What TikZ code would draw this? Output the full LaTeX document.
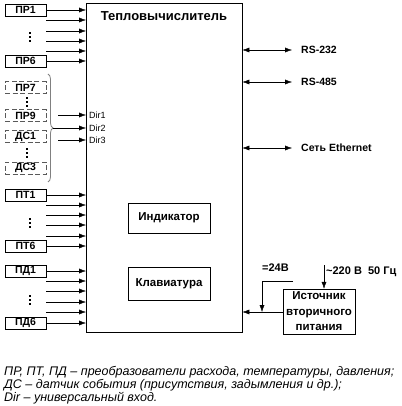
\documentclass[tikz,border=0pt]{standalone}
\usepackage{fontspec}
\setmainfont{Liberation Sans}
\usetikzlibrary{arrows.meta,decorations.pathreplacing}

\begin{document}
\begin{tikzpicture}[x=1pt, y=-1pt,
    sensor/.style={draw, rectangle, minimum width=41pt, minimum height=12pt, inner sep=0pt, font=\bfseries\fontsize{10.5}{11}\selectfont},
    event/.style={sensor, draw=black!65, line width=1pt, dash pattern=on 5pt off 2.5pt},
    unit/.style={draw, rectangle, inner sep=0pt, font=\bfseries\fontsize{11.5}{13}\selectfont, align=center},
    lbl/.style={anchor=west, inner sep=0pt, font=\bfseries\fontsize{10.5}{12}\selectfont},
    sig/.style={-{Latex[length=7pt,width=5pt]}},
    bus/.style={{Latex[length=7pt,width=5pt]}-{Latex[length=7pt,width=5pt]}}]
    \useasboundingbox (0,0) rectangle (401,406);

    % main unit
    \node (calc) [draw, rectangle, minimum width=156pt, minimum height=329pt, anchor=north west] at (86,3) {};
    \node (title) [unit, draw=none, font=\bfseries\fontsize{13}{15}\selectfont] at (164,16) {Тепловычислитель};
    \node (ind) [unit, minimum width=82pt, minimum height=30pt] at (169,218) {Индикатор};
    \node (kbd) [unit, minimum width=82pt, minimum height=33pt] at (169,283.5) {Клавиатура};

    % flow sensors
    \node (pr1) [sensor] at (25.5,10) {ПР1};
    \node (pr6) [sensor] at (25.5,61) {ПР6};
    \foreach \y [count=\i] in {20,31,41,51} {
        \coordinate (prin\i) at (46,\y);
        \draw[sig] (prin\i) -- (prin\i -| calc.west);
    }
    \draw[sig] (pr1.east) -- (pr1.east -| calc.west);
    \draw[sig] (pr6.east) -- (pr6.east -| calc.west);

    % universal inputs
    \node (pr7) [event] at (25.5,88) {ПР7};
    \node (pr9) [event] at (25.5,116) {ПР9};
    \node (ds1) [event] at (25.5,137) {ДС1};
    \node (ds3) [event] at (25.5,168) {ДС3};
    \draw[gray, line width=0.8pt, decorate, decoration={brace, amplitude=5pt}] (48,74) -- (48,182);
    \coordinate (brace) at (53,128);
    \coordinate (dir1) at (58,115);
    \coordinate (dir3) at (58,140);
    \draw[sig] (dir1) -- (dir1 -| calc.west);
    \draw[sig] (brace) -- (brace -| calc.west);
    \draw[sig] (dir3) -- (dir3 -| calc.west);
    \node (d1) [lbl, font=\fontsize{9}{10}\selectfont] at (89,115) {Dir1};
    \node (d2) [lbl, font=\fontsize{9}{10}\selectfont] at (89,128) {Dir2};
    \node (d3) [lbl, font=\fontsize{9}{10}\selectfont] at (89,140) {Dir3};

    % vertical ellipses
    \foreach \x/\y in {30/37, 27/102, 27/153, 30/223, 30/300}
        \foreach \d in {-4,0,4}
            \fill (\x-1.2,\y+\d-1.2) rectangle (\x+1.2,\y+\d+1.2);

    % temperature sensors
    \node (pt1) [sensor] at (25.5,195) {ПТ1};
    \node (pt6) [sensor] at (25.5,246) {ПТ6};
    \foreach \y [count=\i] in {205,215,225,236} {
        \coordinate (ptin\i) at (46,\y);
        \draw[sig] (ptin\i) -- (ptin\i -| calc.west);
    }
    \draw[sig] (pt1.east) -- (pt1.east -| calc.west);
    \draw[sig] (pt6.east) -- (pt6.east -| calc.west);

    % pressure sensors
    \node (pd1) [sensor] at (25.5,271) {ПД1};
    \node (pd6) [sensor] at (25.5,323) {ПД6};
    \foreach \y [count=\i] in {281,291,302,312} {
        \coordinate (pdin\i) at (46,\y);
        \draw[sig] (pdin\i) -- (pdin\i -| calc.west);
    }
    \draw[sig] (pd1.east) -- (pd1.east -| calc.west);
    \draw[sig] (pd6.east) -- (pd6.east -| calc.west);

    % interfaces
    \foreach \y/\name/\txt in {50/rs232/RS-232, 82/rs485/RS-485, 148/eth/Сеть Ethernet} {
        \coordinate (\name) at (292,\y);
        \draw[bus] (\name -| calc.east) -- (\name);
        \node [lbl] at (301,\y) {\txt};
    }

    % power supply
    \node (psu) [unit, minimum width=72pt, minimum height=45pt, font=\bfseries\fontsize{11.5}{15.5}\selectfont] at (319,311.5) {Источник\\вторичного\\питания};
    \coordinate (tap) at (262,312);
    \coordinate (out24) at (293,281);
    \coordinate (mains) at (324,265);
    \draw[sig] (psu.west |- tap) -- (tap -| calc.east);
    \draw[sig] (out24) -| (tap);
    \draw[sig] (mains) -- (mains |- psu.north);
    \node (v24) [lbl, font=\bfseries\fontsize{11}{12}\selectfont] at (262,268) {=24В};
    \node (v220) [lbl, font=\bfseries\fontsize{11}{12}\selectfont] at (326,272) {\textasciitilde220 В\ \ 50 Гц};

    % legend
    \node (note) [anchor=north west, inner sep=0pt, align=left, font=\itshape\fontsize{12.5}{13}\selectfont] at (4,366.5) {ПР, ПТ, ПД – преобразователи расхода, температуры, давления;\\ДС – датчик события (присутствия, задымления и др.);\\Dir – универсальный вход.};
\end{tikzpicture}
\end{document}
